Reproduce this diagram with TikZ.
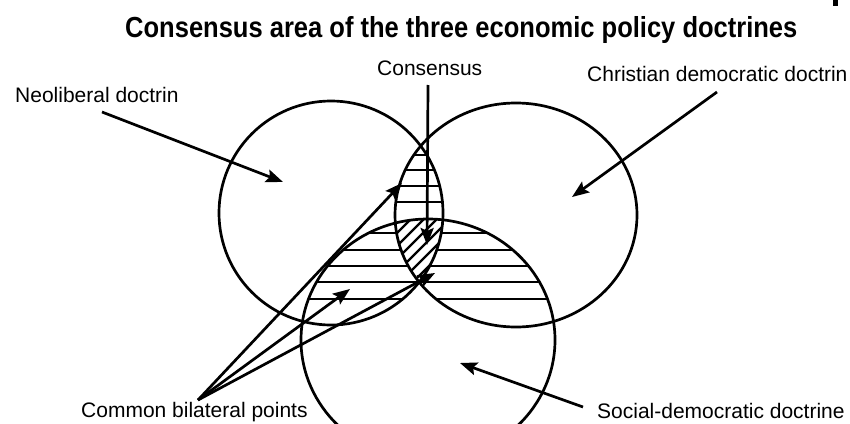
\documentclass[tikz,border=0pt]{standalone}
\usepackage{fontspec}
\setmainfont{Liberation Sans}
\usetikzlibrary{arrows.meta}
\begin{document}
\begin{tikzpicture}[x=1pt,y=-1pt,
  circ/.style={line width=2.7pt},
  hatchline/.style={line width=2.3pt},
  arr/.style={line width=2.7pt,-{Stealth[length=17pt,width=13pt,inset=3pt]}},
  lbl/.style={font=\fontsize{21}{21}\selectfont,inner sep=0pt,anchor=base west}]
\useasboundingbox (0,0) rectangle (850,423);

% hatching in the lens (left and right only)
\begin{scope}
  \clip (331,213) ellipse [x radius=112, y radius=112];
  \clip (516,215) ellipse [x radius=121, y radius=112];
  \foreach \yy in {155,170,186,202}
    \draw[hatchline] (280,\yy) -- (600,\yy);
\end{scope}
% hatching in bottom and exactly one of left/right
\begin{scope}
  \clip (428,340) ellipse [x radius=127, y radius=121];
  \begin{scope}[even odd rule]
  \clip (331,213) ellipse [x radius=112, y radius=112]
        (516,215) ellipse [x radius=121, y radius=112];
  \foreach \yy in {233,250,266,282,299}
    \draw[hatchline] (280,\yy) -- (600,\yy);
  \end{scope}
\end{scope}
% diagonal hatching in the triple intersection
\begin{scope}
  \clip (331,213) ellipse [x radius=112, y radius=112];
  \clip (516,215) ellipse [x radius=121, y radius=112];
  \clip (428,340) ellipse [x radius=127, y radius=121];
  \foreach \xx in {330,343,...,460}
    \draw[hatchline] (\xx,300) -- (\xx+90,210);
\end{scope}

% circles
\draw[circ] (331,213) ellipse [x radius=112, y radius=112];
\draw[circ] (516,215) ellipse [x radius=121, y radius=112];
\draw[circ] (428,340) ellipse [x radius=127, y radius=121];

% fragment at top right
\fill (833,0) rectangle (838,6);

% texts
\node[inner sep=0pt,anchor=base west,font=\bfseries\fontsize{29}{29}\selectfont] (title) at (125,37)
  {\scalebox{0.88}[1]{Consensus area of the three economic policy doctrines}};
\node[lbl] (neo) at (15,102) {Neoliberal doctrin};
\node[lbl] (chr) at (587,81) {Christian democratic doctrin};
\node[lbl] (cons) at (377,75) {Consensus};
\node[lbl] (cbp) at (81,417) {Common bilateral points};
\node[lbl] (soc) at (597,418) {Social-democratic doctrine};

% arrow coordinates
\coordinate (neoS) at (102,112);
\coordinate (neoT) at (283,182);
\coordinate (chrS) at (717,92);
\coordinate (chrT) at (572,197);
\coordinate (socS) at (583,407);
\coordinate (socT) at (460,363);
\coordinate (consS) at (428,85);
\coordinate (consT) at (427,245);
\coordinate (cbpS) at (198,400);
\coordinate (cbpA) at (402,183);
\coordinate (cbpB) at (350,289);
\coordinate (cbpC) at (435,273);

\draw[arr] (neoS) -- (neoT);
\draw[arr] (chrS) -- (chrT);
\draw[arr] (socS) -- (socT);
\draw[arr] (consS) -- (consT);
\draw[arr] (cbpS) -- (cbpA);
\draw[arr] (cbpS) -- (cbpB);
\draw[arr] (cbpS) -- (cbpC);
\end{tikzpicture}
\end{document}
